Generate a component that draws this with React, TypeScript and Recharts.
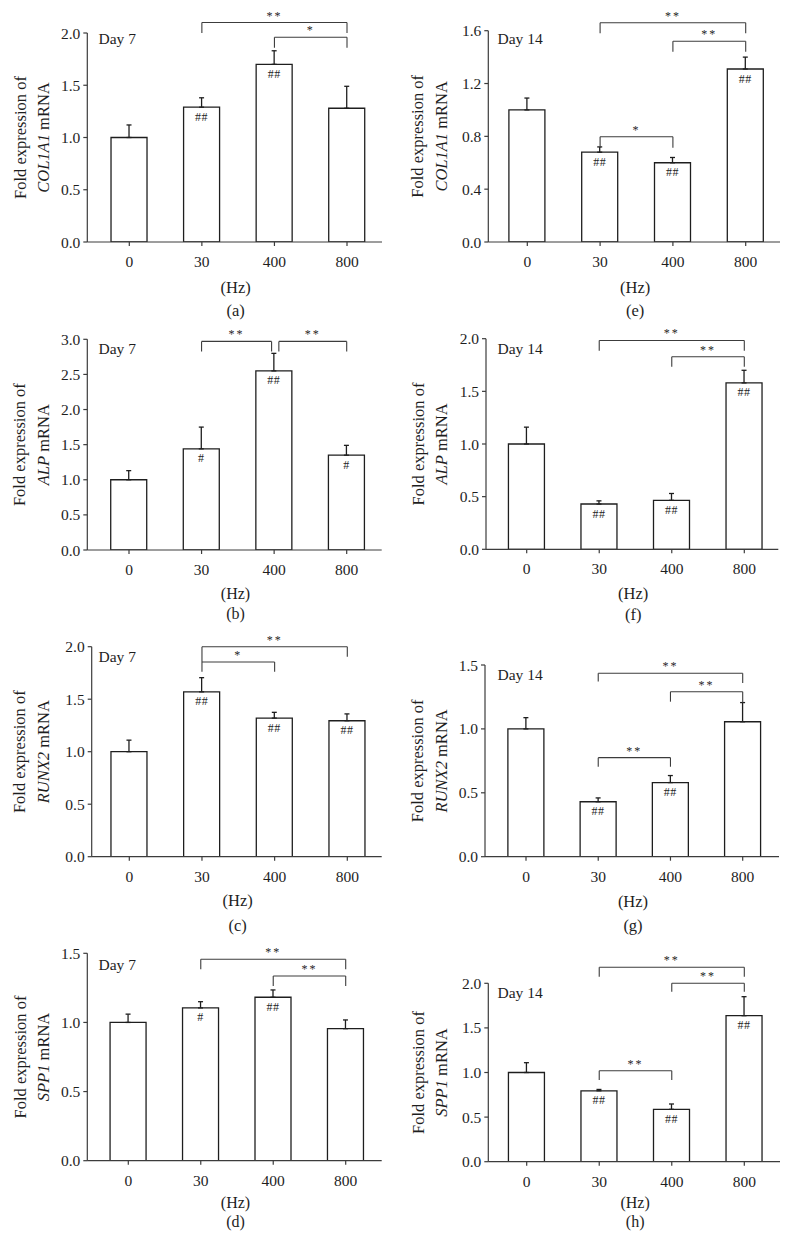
import React from 'react';
import { BarChart, Bar, XAxis, YAxis, ErrorBar, LabelList, ReferenceLine } from 'recharts';

// ---------- data ----------
const categories = ['0', '30', '400', '800'];

// (a) COL1A1, day 7
const col1a1Day7 = [1.0, 1.29, 1.7, 1.28];
const col1a1Day7Err = [0.12, 0.09, 0.13, 0.21];
const col1a1Day7Marks = ['', '##', '##', ''];
const col1a1Day7Sig: [number, number, number, number, number, string][] = [
  [1, 3, 2.1, 2.0, 2.0, '**'],
  [2, 3, 1.96, 1.86, 1.86, '*'],
];

// (b) ALP, day 7
const alpDay7 = [1.0, 1.44, 2.55, 1.35];
const alpDay7Err = [0.13, 0.31, 0.25, 0.14];
const alpDay7Marks = ['', '#', '##', '#'];
const alpDay7Sig: [number, number, number, number, number, string][] = [
  [1, 1.965, 2.97, 2.825, 2.825, '**'],
  [2.065, 3, 2.97, 2.825, 2.825, '**'],
];

// (c) RUNX2, day 7
const runx2Day7 = [1.0, 1.57, 1.32, 1.295];
const runx2Day7Err = [0.11, 0.135, 0.055, 0.065];
const runx2Day7Marks = ['', '##', '##', '##'];
const runx2Day7Sig: [number, number, number, number, number, string][] = [
  [1, 3, 2.0, 1.854, 1.905, '**'],
  [1, 2, 1.854, 1.762, 1.762, '*'],
];

// (d) SPP1, day 7
const spp1Day7 = [1.0, 1.105, 1.182, 0.955];
const spp1Day7Err = [0.06, 0.045, 0.053, 0.063];
const spp1Day7Marks = ['', '#', '##', ''];
const spp1Day7Sig: [number, number, number, number, number, string][] = [
  [1, 3, 1.457, 1.385, 1.385, '**'],
  [2, 3, 1.336, 1.264, 1.264, '**'],
];

// (e) COL1A1, day 14
const col1a1Day14 = [1.0, 0.68, 0.6, 1.31];
const col1a1Day14Err = [0.09, 0.04, 0.04, 0.09];
const col1a1Day14Marks = ['', '##', '##', '##'];
const col1a1Day14Sig: [number, number, number, number, number, string][] = [
  [1, 3, 1.66, 1.58, 1.58, '**'],
  [2, 3, 1.52, 1.44, 1.44, '**'],
  [1, 2, 0.797, 0.714, 0.714, '*'],
];

// (f) ALP, day 14
const alpDay14 = [1.0, 0.43, 0.465, 1.58];
const alpDay14Err = [0.16, 0.03, 0.065, 0.12];
const alpDay14Marks = ['', '##', '##', '##'];
const alpDay14Sig: [number, number, number, number, number, string][] = [
  [1, 3, 1.983, 1.886, 1.886, '**'],
  [2, 3, 1.829, 1.734, 1.734, '**'],
];

// (g) RUNX2, day 14
const runx2Day14 = [1.0, 0.43, 0.58, 1.056];
const runx2Day14Err = [0.088, 0.03, 0.055, 0.15];
const runx2Day14Marks = ['', '##', '##', ''];
const runx2Day14Sig: [number, number, number, number, number, string][] = [
  [1, 3, 1.435, 1.37, 1.36, '**'],
  [2, 3, 1.291, 1.213, 1.205, '**'],
  [1, 2, 0.775, 0.704, 0.704, '**'],
];

// (h) SPP1, day 14
const spp1Day14 = [1.0, 0.795, 0.587, 1.637];
const spp1Day14Err = [0.11, 0.015, 0.06, 0.213];
const spp1Day14Marks = ['', '##', '##', '##'];
const spp1Day14Sig: [number, number, number, number, number, string][] = [
  [1, 3, 2.18, 2.074, 2.074, '**'],
  [2, 3, 2.0, 1.906, 1.906, '**'],
  [1, 2, 1.02, 0.916, 0.916, '**'],
];

const ticks2 = [0, 0.5, 1.0, 1.5, 2.0];
const ticks3 = [0, 0.5, 1.0, 1.5, 2.0, 2.5, 3.0];
const ticks15 = [0, 0.5, 1.0, 1.5];
const ticks16 = [0, 0.4, 0.8, 1.2, 1.6];

// ---------- layout (pixel geometry, styles) ----------
const FONT = '"Liberation Serif", "Times New Roman", serif';
const INK = '#1e1e1e';
const AXIS = '#3c3c3c';

type Layout = {
  colLeft: number; rowTop: number; h: number;
  axisX: number; plotTop: number; plotBottom: number;
  c0: number; c3: number; axisEnd: number;
  dayY: number; hzY: number; subY: number;
};

const panels = [
  { gene: 'COL1A1', day: 'Day 7', sub: '(a)', values: col1a1Day7, errors: col1a1Day7Err, marks: col1a1Day7Marks, sig: col1a1Day7Sig, yTicks: ticks2,
    L: { colLeft: 0, rowTop: 0, h: 345, axisX: 87.3, plotTop: 33, plotBottom: 242, c0: 129.3, c3: 347, axisEnd: 382, dayY: 38.3, hzY: 287, subY: 310 } },
  { gene: 'ALP', day: 'Day 7', sub: '(b)', values: alpDay7, errors: alpDay7Err, marks: alpDay7Marks, sig: alpDay7Sig, yTicks: ticks3,
    L: { colLeft: 0, rowTop: 300, h: 345, axisX: 87.3, plotTop: 339.3, plotBottom: 550, c0: 129, c3: 346.7, axisEnd: 381.7, dayY: 348.3, hzY: 593.3, subY: 613 } },
  { gene: 'RUNX2', day: 'Day 7', sub: '(c)', values: runx2Day7, errors: runx2Day7Err, marks: runx2Day7Marks, sig: runx2Day7Sig, yTicks: ticks2,
    L: { colLeft: 0, rowTop: 600, h: 345, axisX: 91.7, plotTop: 646.7, plotBottom: 856.7, c0: 129.3, c3: 347.3, axisEnd: 381.7, dayY: 656.7, hzY: 900, subY: 925 } },
  { gene: 'SPP1', day: 'Day 7', sub: '(d)', values: spp1Day7, errors: spp1Day7Err, marks: spp1Day7Marks, sig: spp1Day7Sig, yTicks: ticks15,
    L: { colLeft: 0, rowTop: 920, h: 324, axisX: 87.3, plotTop: 953.3, plotBottom: 1160.7, c0: 128.3, c3: 345.7, axisEnd: 381.7, dayY: 964, hzY: 1202.5, subY: 1221.5 } },
  { gene: 'COL1A1', day: 'Day 14', sub: '(e)', values: col1a1Day14, errors: col1a1Day14Err, marks: col1a1Day14Marks, sig: col1a1Day14Sig, yTicks: ticks16,
    L: { colLeft: 395, rowTop: 0, h: 345, axisX: 488.3, plotTop: 30.7, plotBottom: 242, c0: 527.3, c3: 745.7, axisEnd: 780, dayY: 38.3, hzY: 287, subY: 310 } },
  { gene: 'ALP', day: 'Day 14', sub: '(f)', values: alpDay14, errors: alpDay14Err, marks: alpDay14Marks, sig: alpDay14Sig, yTicks: ticks2,
    L: { colLeft: 395, rowTop: 300, h: 345, axisX: 486, plotTop: 338.7, plotBottom: 549.3, c0: 526.7, c3: 744.3, axisEnd: 778.3, dayY: 348.3, hzY: 593.3, subY: 614 } },
  { gene: 'RUNX2', day: 'Day 14', sub: '(g)', values: runx2Day14, errors: runx2Day14Err, marks: runx2Day14Marks, sig: runx2Day14Sig, yTicks: ticks15,
    L: { colLeft: 395, rowTop: 600, h: 345, axisX: 485, plotTop: 665, plotBottom: 856.7, c0: 526, c3: 742.7, axisEnd: 779, dayY: 674, hzY: 901, subY: 925 } },
  { gene: 'SPP1', day: 'Day 14', sub: '(h)', values: spp1Day14, errors: spp1Day14Err, marks: spp1Day14Marks, sig: spp1Day14Sig, yTicks: ticks2,
    L: { colLeft: 395, rowTop: 920, h: 324, axisX: 488.3, plotTop: 983.3, plotBottom: 1161.7, c0: 526.7, c3: 744.3, axisEnd: 780, dayY: 992.7, hzY: 1202.5, subY: 1221.5 } },
];

function Panel({ p }: { p: any }) {
  const L: Layout = p.L;
  const left = L.colLeft === 0;
  const chartW = left ? 395 : 396;
  const yAxisW = 50;
  const xAxisH = 30;
  const margin = {
    top: L.plotTop - L.rowTop,
    left: L.axisX - L.colLeft - yAxisW,
    right: chartW - (L.axisEnd - L.colLeft),
    bottom: L.rowTop + L.h - L.plotBottom - xAxisH,
  };
  const unit = (L.c3 - L.c0) / 3;
  const xDomain = [-(L.c0 - L.axisX) / unit, 3 + (L.axisEnd - L.c3) / unit];
  const data = categories.map((c, i) => ({ i, v: p.values[i], err: [0, p.errors[i]], mark: p.marks[i] }));
  const lx = (x: number) => x - L.colLeft;
  const ly = (y: number) => y - L.rowTop;
  const midY = ly((L.plotTop + L.plotBottom) / 2);
  const yl1 = lx(left ? 20 : 418);
  const yl2 = lx(left ? 43 : 441);
  const dayX = lx(left ? 98.5 : 497.5);
  const midX = lx((L.axisX + L.axisEnd) / 2 + 1);
  const yMax = p.yTicks[p.yTicks.length - 1];
  const subFont = L.subY - L.hzY < 20 ? 16 : 16.5;

  const yLabel = () => (
    <g fontFamily={FONT} fill={INK}>
      <text x={yl1} y={midY} transform={`rotate(-90 ${yl1} ${midY})`} textAnchor="middle" dominantBaseline="central" fontSize={16.5}>
        Fold expression of
      </text>
      <text x={yl2} y={midY} transform={`rotate(-90 ${yl2} ${midY})`} textAnchor="middle" dominantBaseline="central" fontSize={16.5}>
        <tspan fontStyle="italic">{p.gene}</tspan>
        <tspan>{' mRNA'}</tspan>
      </text>
      <text x={dayX} y={ly(L.dayY)} textAnchor="start" dominantBaseline="central" fontSize={15.5}>
        {p.day}
      </text>
    </g>
  );
  const xLabel = () => (
    <g fontFamily={FONT} fill={INK} fontSize={subFont}>
      <text x={midX} y={ly(L.hzY)} textAnchor="middle" dominantBaseline="central">(Hz)</text>
      <text x={midX} y={ly(L.subY)} textAnchor="middle" dominantBaseline="central">{p.sub}</text>
    </g>
  );

  const lines: any[] = [];
  p.sig.forEach((b: [number, number, number, number, number, string], k: number) => {
    const [x1, x2, y, l1, l2, s] = b;
    lines.push(
      <ReferenceLine key={`h${k}`} segment={[{ x: x1, y }, { x: x2, y }]} stroke={AXIS} strokeWidth={1.1} ifOverflow="visible"
        label={{ value: s, position: 'top', offset: 3, fontSize: 12, fill: INK, fontFamily: FONT, style: { letterSpacing: 2 } }} />,
      <ReferenceLine key={`l${k}`} segment={[{ x: x1, y }, { x: x1, y: l1 }]} stroke={AXIS} strokeWidth={1.1} ifOverflow="visible" />,
      <ReferenceLine key={`r${k}`} segment={[{ x: x2, y }, { x: x2, y: l2 }]} stroke={AXIS} strokeWidth={1.1} ifOverflow="visible" />
    );
  });

  return (
    <div style={{ position: 'absolute', left: L.colLeft, top: L.rowTop, width: chartW, height: L.h }}>
      <BarChart width={chartW} height={L.h} data={data} margin={margin}>
        <XAxis
          type="number"
          dataKey="i"
          domain={xDomain}
          ticks={[0, 1, 2, 3]}
          interval={0}
          allowDataOverflow
          tickFormatter={(v: number) => categories[v]}
          height={xAxisH}
          tickSize={4}
          tickMargin={10}
          stroke={AXIS}
          axisLine={{ stroke: AXIS, strokeWidth: 1.2 }}
          tickLine={{ stroke: AXIS, strokeWidth: 1.2 }}
          tick={{ fill: INK, fontSize: 15.5, fontFamily: FONT }}
          label={xLabel}
        />
        <YAxis
          type="number"
          domain={[0, yMax]}
          ticks={p.yTicks}
          interval={0}
          allowDataOverflow
          tickFormatter={(v: number) => v.toFixed(1)}
          width={yAxisW}
          tickSize={4}
          tickMargin={3}
          axisLine={{ stroke: AXIS, strokeWidth: 1.2 }}
          tickLine={{ stroke: AXIS, strokeWidth: 1.2 }}
          tick={{ fill: INK, fontSize: 15.5, fontFamily: FONT }}
          label={yLabel}
        />
        <Bar dataKey="v" fill="#ffffff" stroke={INK} strokeWidth={1.3} barSize={36} isAnimationActive={false}>
          <ErrorBar dataKey="err" direction="y" width={2.5} stroke={INK} strokeWidth={1.3} />
          <LabelList dataKey="mark" position="insideTop" offset={5} fontSize={12} fill={INK} fontFamily={FONT} style={{ letterSpacing: 0.5 }} />
        </Bar>
        {lines}
      </BarChart>
    </div>
  );
}

export default function App() {
  return (
    <div style={{ position: 'absolute', left: 0, top: 0, width: 791, height: 1244, background: '#ffffff', overflow: 'hidden' }}>
      {panels.map((p, i) => (
        <Panel key={i} p={p} />
      ))}
    </div>
  );
}
